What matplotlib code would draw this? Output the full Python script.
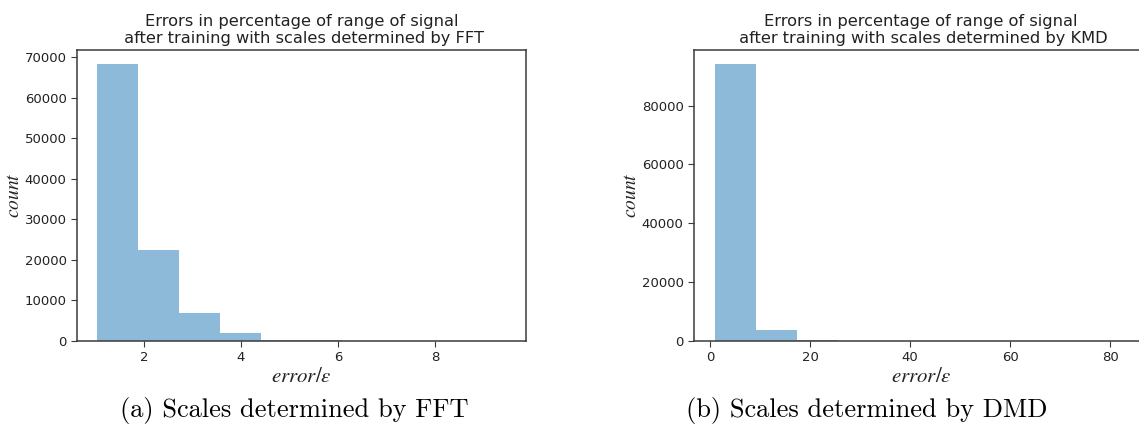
import numpy as np
import matplotlib
matplotlib.use("Agg")
import matplotlib.pyplot as plt

# ---- data ----
fft_range = (1.04, 9.46)
fft_counts = [68400, 22450, 6970, 2050, 360, 330, 60, 25, 10, 5]
kmd_range = (0.9, 83.4)
kmd_counts = [94150, 3650, 500, 60, 20, 10, 5, 3, 2, 1]
titles = ["Errors in percentage of range of signal\n after training with scales determined by FFT",
          "Errors in percentage of range of signal\n after training with scales determined by KMD"]
captions = ["(a) Scales determined by FFT", "(b) Scales determined by DMD"]

plt.rcParams['mathtext.fontset'] = 'stix'
W, H = 1139, 432
fig = plt.figure(figsize=(W / 100, H / 100), dpi=100)

def box(x0, y0, x1, y1):
    return [x0 / W, 1 - y1 / H, (x1 - x0) / W, (y1 - y0) / H]

ax1 = fig.add_axes(box(77, 50, 526, 341))
ax2 = fig.add_axes(box(694, 50, 1148, 341))

spine_col = '#3a3a3a'
for ax, rng, counts, title in [(ax1, fft_range, fft_counts, titles[0]),
                               (ax2, kmd_range, kmd_counts, titles[1])]:
    edges = np.linspace(rng[0], rng[1], len(counts) + 1)
    centers = (edges[:-1] + edges[1:]) / 2
    ax.hist(centers, bins=edges, weights=counts, alpha=0.5, color='#1f77b4')
    ax.set_title(title, fontsize=11.7, color='#222222', pad=5)
    ax.set_ylabel(r'$count$', fontsize=14, color='#222222', labelpad=1)
    ax.set_xlabel(r'$error/\varepsilon$', fontsize=15, color='#222222', labelpad=1)
    ax.tick_params(labelsize=9.5, colors='#222222', color=spine_col, length=4)
    for s in ax.spines.values():
        s.set_color(spine_col)
        s.set_linewidth(1.1)

ax1.set_xticks([2, 4, 6, 8])
ax1.set_yticks(np.arange(0, 70001, 10000))
ax2.set_xticks([0, 20, 40, 60, 80])
ax2.set_yticks(np.arange(0, 80001, 20000))

fig.text(294 / W, 1 - 410 / H, captions[0], family='cmr10', fontsize=19,
         ha='center', va='center')
fig.text(867 / W, 1 - 410 / H, captions[1], family='cmr10', fontsize=19,
         ha='center', va='center')

fig.savefig('out.png', dpi=100)
